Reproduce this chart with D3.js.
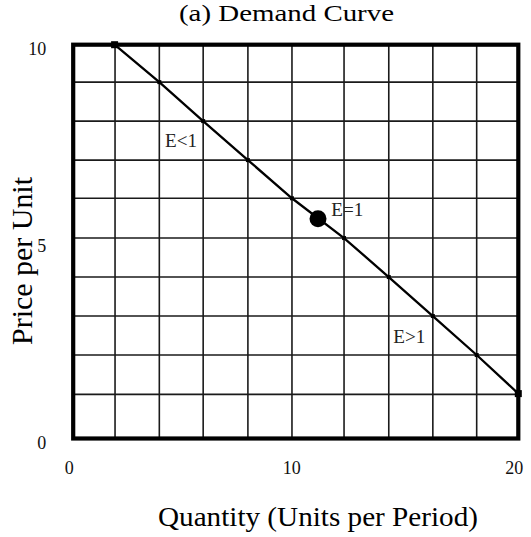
<!DOCTYPE html>
<html>
<head>
<meta charset="utf-8">
<script src="https://cdn.jsdelivr.net/npm/d3@7"></script>
<style>
  html, body { margin: 0; padding: 0; background: #fff; }
  svg { display: block; font-family: "Liberation Serif", "Times New Roman", serif; }
</style>
</head>
<body>
<svg id="chart" width="531" height="537"></svg>
<script>
// ---- data ----
const title = "(a) Demand Curve";
const xLabel = "Quantity (Units per Period)";
const yLabel = "Price per Unit";
const xTicks = [0, 10, 20];
const yTicks = [0, 5, 10];
const gridQ = [1.88, 3.87, 5.84, 7.85, 9.83, 12.17, 14.18, 16.16, 18.13];
const gridP = [1.12, 2.12, 3.11, 4.10, 5.09, 6.10, 7.07, 8.06, 9.05];
const demandQ = [1.86, 3.87, 5.84, 7.85, 9.83, 12.17, 14.18, 16.16, 18.13, 20];
const demandP = [10, 9.05, 8.06, 7.07, 6.10, 5.09, 4.10, 3.11, 2.12, 1.14];
const unitPoint = { q: 11.0, p: 5.58 };
const labelText = ["E<1", "E=1", "E>1"];
const labelQ = [4.13, 11.6, 14.38];
const labelP = [7.41, 5.66, 2.43];

// ---- layout ----
const svg = d3.select("#chart");
const x = d3.scaleLinear().domain([0, 20]).range([73.2, 518.3]);
const y = d3.scaleLinear().domain([0, 10]).range([438.5, 44.7]);

// grid
const g = svg.append("g");
g.selectAll("line.gx").data(gridQ).join("line")
  .attr("x1", d => x(d)).attr("x2", d => x(d))
  .attr("y1", y(10)).attr("y2", y(0))
  .attr("stroke", "#1a1a1a").attr("stroke-width", 1.6);
g.selectAll("line.gy").data(gridP).join("line")
  .attr("y1", d => y(d)).attr("y2", d => y(d))
  .attr("x1", x(0)).attr("x2", x(20))
  .attr("stroke", "#1a1a1a").attr("stroke-width", 1.6);

// frame
svg.append("rect")
  .attr("x", x(0)).attr("y", y(10))
  .attr("width", x(20) - x(0)).attr("height", y(0) - y(10))
  .attr("fill", "none").attr("stroke", "#000").attr("stroke-width", 4.2);

// demand line
const pts = demandQ.map((q, i) => [q, demandP[i]]);
svg.append("path")
  .datum(pts)
  .attr("d", d3.line().x(d => x(d[0])).y(d => y(d[1])))
  .attr("fill", "none").attr("stroke", "#000").attr("stroke-width", 2.3);

// vertex markers
svg.selectAll("rect.mk").data(pts).join("rect")
  .attr("class", "mk")
  .each(function(d, i) {
    const s = (i === 0 || i === pts.length - 1) ? 7 : 4;
    d3.select(this)
      .attr("x", x(d[0]) - s / 2).attr("y", y(d[1]) - s / 2)
      .attr("width", s).attr("height", s).attr("fill", "#000");
  });

// unit elastic point
svg.append("circle")
  .attr("cx", x(unitPoint.q)).attr("cy", y(unitPoint.p))
  .attr("r", 8.5).attr("fill", "#000");

// E labels
svg.selectAll("text.el").data(labelText).join("text")
  .attr("class", "el")
  .attr("x", (d, i) => x(labelQ[i])).attr("y", (d, i) => y(labelP[i]))
  .attr("font-size", 18).attr("fill", "#222")
  .attr("textLength", 32).attr("lengthAdjust", "spacingAndGlyphs")
  .text(d => d);

// axes (labels only)
const xAxis = svg.append("g")
  .attr("transform", `translate(0,${y(0)})`)
  .call(d3.axisBottom(x).tickValues(xTicks).tickSize(0).tickPadding(23).tickFormat(d3.format("d")));
xAxis.select(".domain").remove();
xAxis.selectAll("text")
  .attr("font-family", "Liberation Serif, serif").attr("font-size", 18)
  .attr("fill", "#111").attr("dx", -4.5);

const yAxis = svg.append("g")
  .attr("transform", `translate(${x(0)},0)`)
  .call(d3.axisLeft(y).tickValues(yTicks).tickSize(0).tickPadding(27).tickFormat(d3.format("d")));
yAxis.select(".domain").remove();
yAxis.selectAll("text")
  .attr("font-family", "Liberation Serif, serif").attr("font-size", 18)
  .attr("fill", "#111").attr("dy", "0.55em");

// title
svg.append("text")
  .attr("x", 286.5).attr("y", 21)
  .attr("text-anchor", "middle")
  .attr("font-size", 24).attr("fill", "#000")
  .attr("textLength", 215).attr("lengthAdjust", "spacingAndGlyphs")
  .text(title);

// x label
svg.append("text")
  .attr("x", 318).attr("y", 526)
  .attr("text-anchor", "middle")
  .attr("font-size", 28).attr("fill", "#000")
  .attr("textLength", 320).attr("lengthAdjust", "spacingAndGlyphs")
  .text(xLabel);

// y label
svg.append("text")
  .attr("transform", "translate(32,261) rotate(-90)")
  .attr("text-anchor", "middle")
  .attr("font-size", 29).attr("fill", "#000")
  .attr("textLength", 168).attr("lengthAdjust", "spacingAndGlyphs")
  .text(yLabel);
</script>
</body>
</html>
